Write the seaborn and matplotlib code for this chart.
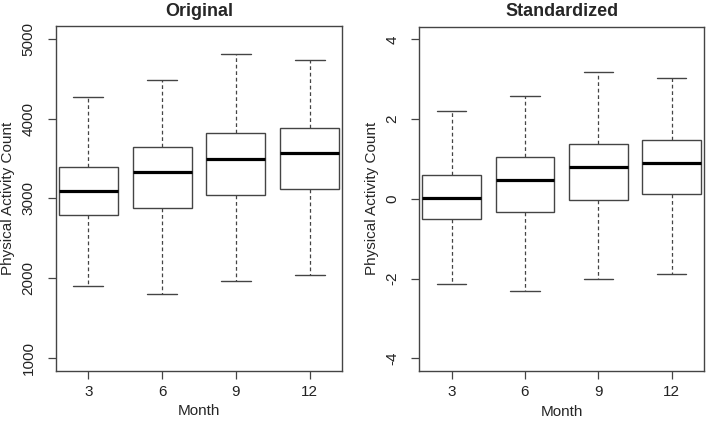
import numpy as np
import pandas as pd
import seaborn as sns
import matplotlib
matplotlib.use("Agg")
import matplotlib.pyplot as plt

months = ["3", "6", "9", "12"]

orig_min = [1900, 1800, 1965, 2035]
orig_q1 = [2790, 2885, 3040, 3123]
orig_med = [3086, 3328, 3499, 3562]
orig_q3 = [3387, 3646, 3817, 3876]
orig_max = [4273, 4486, 4808, 4732]

std_min = [-2.13, -2.31, -2.00, -1.88]
std_q1 = [-0.51, -0.32, -0.04, 0.11]
std_med = [0.03, 0.47, 0.79, 0.90]
std_q3 = [0.59, 1.06, 1.38, 1.47]
std_max = [2.20, 2.59, 3.17, 3.04]

orig_yticks = [1000, 2000, 3000, 4000, 5000]
std_yticks = [-4, -2, 0, 2, 4]


def five_num_frame(mins, q1s, meds, q3s, maxs):
    rows = []
    for m, a, b, c, d, e in zip(months, mins, q1s, meds, q3s, maxs):
        for v in (a, b, c, d, e):
            rows.append({"Month": m, "value": v})
    return pd.DataFrame(rows)


df_orig = five_num_frame(orig_min, orig_q1, orig_med, orig_q3, orig_max)
df_std = five_num_frame(std_min, std_q1, std_med, std_q3, std_max)

sns.set_style("ticks")
plt.rcParams["font.family"] = ["Liberation Sans", "DejaVu Sans"]

fig = plt.figure(figsize=(7.09, 4.22), dpi=100)
ax1 = fig.add_axes([0.0786, 0.1216, 0.4042, 0.8168])
ax2 = fig.add_axes([0.5914, 0.1209, 0.4015, 0.8160])

edge = "#444444"

panels = [
    (ax1, df_orig, "Original", (840, 5160), orig_yticks, [str(t) for t in orig_yticks]),
    (ax2, df_std, "Standardized", (-4.32, 4.32), std_yticks, [str(t) for t in std_yticks]),
]

for ax, df, title, ylim, yt, ytl in panels:
    sns.boxplot(
        data=df, x="Month", y="value", order=months, ax=ax,
        whis=(0, 100), width=0.8, color="white", linecolor=edge,
        linewidth=1.0, fliersize=0, capwidths=0.4,
        medianprops=dict(color="black", linewidth=2.3),
        whiskerprops=dict(linestyle=(0, (3, 2.2)), color=edge, linewidth=0.9),
        capprops=dict(color=edge, linewidth=1.0),
        boxprops=dict(edgecolor=edge, facecolor="white", linewidth=1.0),
    )
    ax.set_xlim(-0.44, 3.44)
    ax.set_ylim(*ylim)
    ax.set_yticks(yt)
    ax.set_yticklabels(ytl)
    ax.set_title(title, fontsize=13, fontweight="bold", pad=7.4)
    ax.set_xlabel("Month", fontsize=11)
    ax.set_ylabel("Physical Activity Count", fontsize=11)
    ax.xaxis.set_label_coords(0.5, -0.098)
    ax.yaxis.set_label_coords(-0.143, 0.5)
    for s in ax.spines.values():
        s.set_visible(True)
        s.set_color(edge)
        s.set_linewidth(1.0)
    ax.tick_params(axis="both", direction="out", length=5.5, width=0.9,
                   color=edge, labelsize=11, labelcolor="#222222")
    ax.tick_params(axis="y", labelrotation=90, pad=9)
    ax.tick_params(axis="x", pad=4.5)
    for lbl in ax.get_yticklabels():
        lbl.set_va("center")
    ax.grid(False)

fig.savefig("out.png", dpi=100)
